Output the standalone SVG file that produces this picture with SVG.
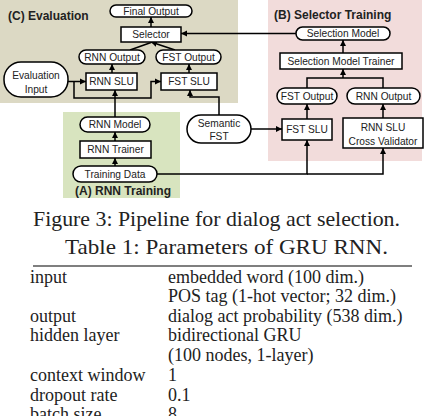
<svg xmlns="http://www.w3.org/2000/svg" width="435" height="416" viewBox="0 0 435 416">
<defs>
<marker id="ah" markerUnits="userSpaceOnUse" markerWidth="7" markerHeight="7" refX="6" refY="3.5" orient="auto">
<path d="M0,0.5 L6,3.5 L0,6.5 Z" fill="#000"/>
</marker>
<style>
.box{fill:#fff;stroke:#000;stroke-width:1.5}
.t{font-family:"Liberation Sans",Arial,sans-serif;font-size:10.2px;fill:#222;text-anchor:middle;dominant-baseline:central}
.h{font-family:"Liberation Sans",Arial,sans-serif;font-size:12px;font-weight:bold;fill:#222}
.c{fill:none;stroke:#000;stroke-width:1.5}
.a{marker-end:url(#ah)}
.cap{font-family:"Liberation Serif","Times New Roman",serif;font-size:21px;fill:#222}
.tb{font-family:"Liberation Serif","Times New Roman",serif;font-size:18px;fill:#222}
</style>
</defs>
<rect x="0" y="0" width="238" height="103" fill="#dcd9c4"/>
<rect x="268" y="0" width="154" height="161" fill="#f2dcdb"/>
<rect x="63" y="112" width="117" height="86" fill="#d8e4bf"/>
<text class="h" x="8" y="20">(C) Evaluation</text>
<text class="h" x="274" y="19">(B) Selector Training</text>
<text class="h" x="75" y="195">(A) RNN Training</text>
<g id="connectors">
<path class="c a" d="M68,81.5 H86"/>
<path class="c a" d="M74,81.5 V98 H151 V81.5 H161"/>
<path class="c a" d="M112,73 V64"/>
<path class="c a" d="M189,73 V64"/>
<path class="c" d="M130,50 L151,42.5"/>
<path class="c a" d="M175,50 L151,42"/>
<path class="c a" d="M151,27 V17"/>
<path class="c a" d="M296,33.5 H181"/>
<path class="c a" d="M115,117 V90"/>
<path class="c a" d="M219,115 V97 H190 V90"/>
<path class="c a" d="M115,166 V158"/>
<path class="c a" d="M115,141 V132"/>
<path class="c a" d="M157,174 H307 V140"/>
<path class="c a" d="M307,174 H383 V148"/>
<path class="c a" d="M251,129 H282"/>
<path class="c a" d="M307,119 V104"/>
<path class="c a" d="M383,118 V104"/>
<path class="c" d="M307,88 V78 H383 V88"/>
<path class="c a" d="M343,78 V69"/>
<path class="c a" d="M343,53 V40"/>
</g>
<g id="final-output"><rect class="box" x="110" y="5" width="82" height="12" rx="6"/><text class="t" x="151" y="11">Final Output</text></g>
<g id="selector"><rect class="box" x="121" y="27" width="60" height="15"/><text class="t" x="151" y="34.5">Selector</text></g>
<g id="rnn-output-c"><rect class="box" x="79" y="50" width="66" height="14" rx="7"/><text class="t" x="112" y="57">RNN Output</text></g>
<g id="fst-output-c"><rect class="box" x="156" y="50" width="65" height="14" rx="7"/><text class="t" x="188.5" y="57">FST Output</text></g>
<g id="evaluation-input"><rect class="box" x="4" y="62" width="64" height="35" rx="17"/><text class="t" x="36" y="75">Evaluation</text><text class="t" x="36" y="89">Input</text></g>
<g id="rnn-slu-c"><rect class="box" x="86" y="73" width="51" height="17"/><text class="t" x="111.5" y="81.5">RNN SLU</text></g>
<g id="fst-slu-c"><rect class="box" x="161" y="73" width="56" height="17"/><text class="t" x="189" y="81.5">FST SLU</text></g>
<g id="selection-model"><rect class="box" x="296" y="27" width="94" height="13" rx="6.5"/><text class="t" x="343" y="33.5">Selection Model</text></g>
<g id="selection-model-trainer"><rect class="box" x="280" y="53" width="122" height="16"/><text class="t" x="341" y="61">Selection Model Trainer</text></g>
<g id="fst-output-b"><rect class="box" x="277" y="88" width="60" height="16" rx="8"/><text class="t" x="307" y="96">FST Output</text></g>
<g id="rnn-output-b"><rect class="box" x="347" y="88" width="73" height="16" rx="8"/><text class="t" x="383.5" y="96">RNN Output</text></g>
<g id="fst-slu-b"><rect class="box" x="282" y="119" width="50" height="21"/><text class="t" x="307" y="129.5">FST SLU</text></g>
<g id="rnn-slu-cross-validator"><rect class="box" x="343" y="118" width="80" height="30"/><text class="t" x="383" y="127">RNN SLU</text><text class="t" x="383" y="141">Cross Validator</text></g>
<g id="semantic-fst"><rect class="box" x="187" y="115" width="64" height="28" rx="14"/><text class="t" x="219" y="123">Semantic</text><text class="t" x="219" y="136">FST</text></g>
<g id="rnn-model"><rect class="box" x="80" y="117" width="70" height="15" rx="7.5"/><text class="t" x="115" y="124.5">RNN Model</text></g>
<g id="rnn-trainer"><rect class="box" x="80" y="141" width="71" height="17"/><text class="t" x="115.5" y="149.5">RNN Trainer</text></g>
<g id="training-data"><rect class="box" x="73" y="166" width="84" height="16" rx="8"/><text class="t" x="115" y="174">Training Data</text></g>
<text class="cap" x="33" y="226" textLength="367" lengthAdjust="spacingAndGlyphs">Figure 3: Pipeline for dialog act selection.</text>
<text class="cap" x="65" y="254" textLength="323" lengthAdjust="spacingAndGlyphs">Table 1: Parameters of GRU RNN.</text>
<line x1="33" y1="266" x2="412" y2="266" stroke="#000" stroke-width="1.2"/>
<g class="tb">
<text x="30" y="283">input</text><text x="168" y="283">embedded word (100 dim.)</text>
<text x="168" y="302">POS tag (1-hot vector; 32 dim.)</text>
<text x="30" y="321.5">output</text><text x="168" y="321.5">dialog act probability (538 dim.)</text>
<text x="30" y="341">hidden layer</text><text x="168" y="341">bidirectional GRU</text>
<text x="168" y="361">(100 nodes, 1-layer)</text>
<text x="30" y="381">context window</text><text x="168" y="381">1</text>
<text x="30" y="400.5">dropout rate</text><text x="168" y="400.5">0.1</text>
<text x="30" y="420">batch size</text><text x="168" y="420">8</text>
</g>
</svg>
